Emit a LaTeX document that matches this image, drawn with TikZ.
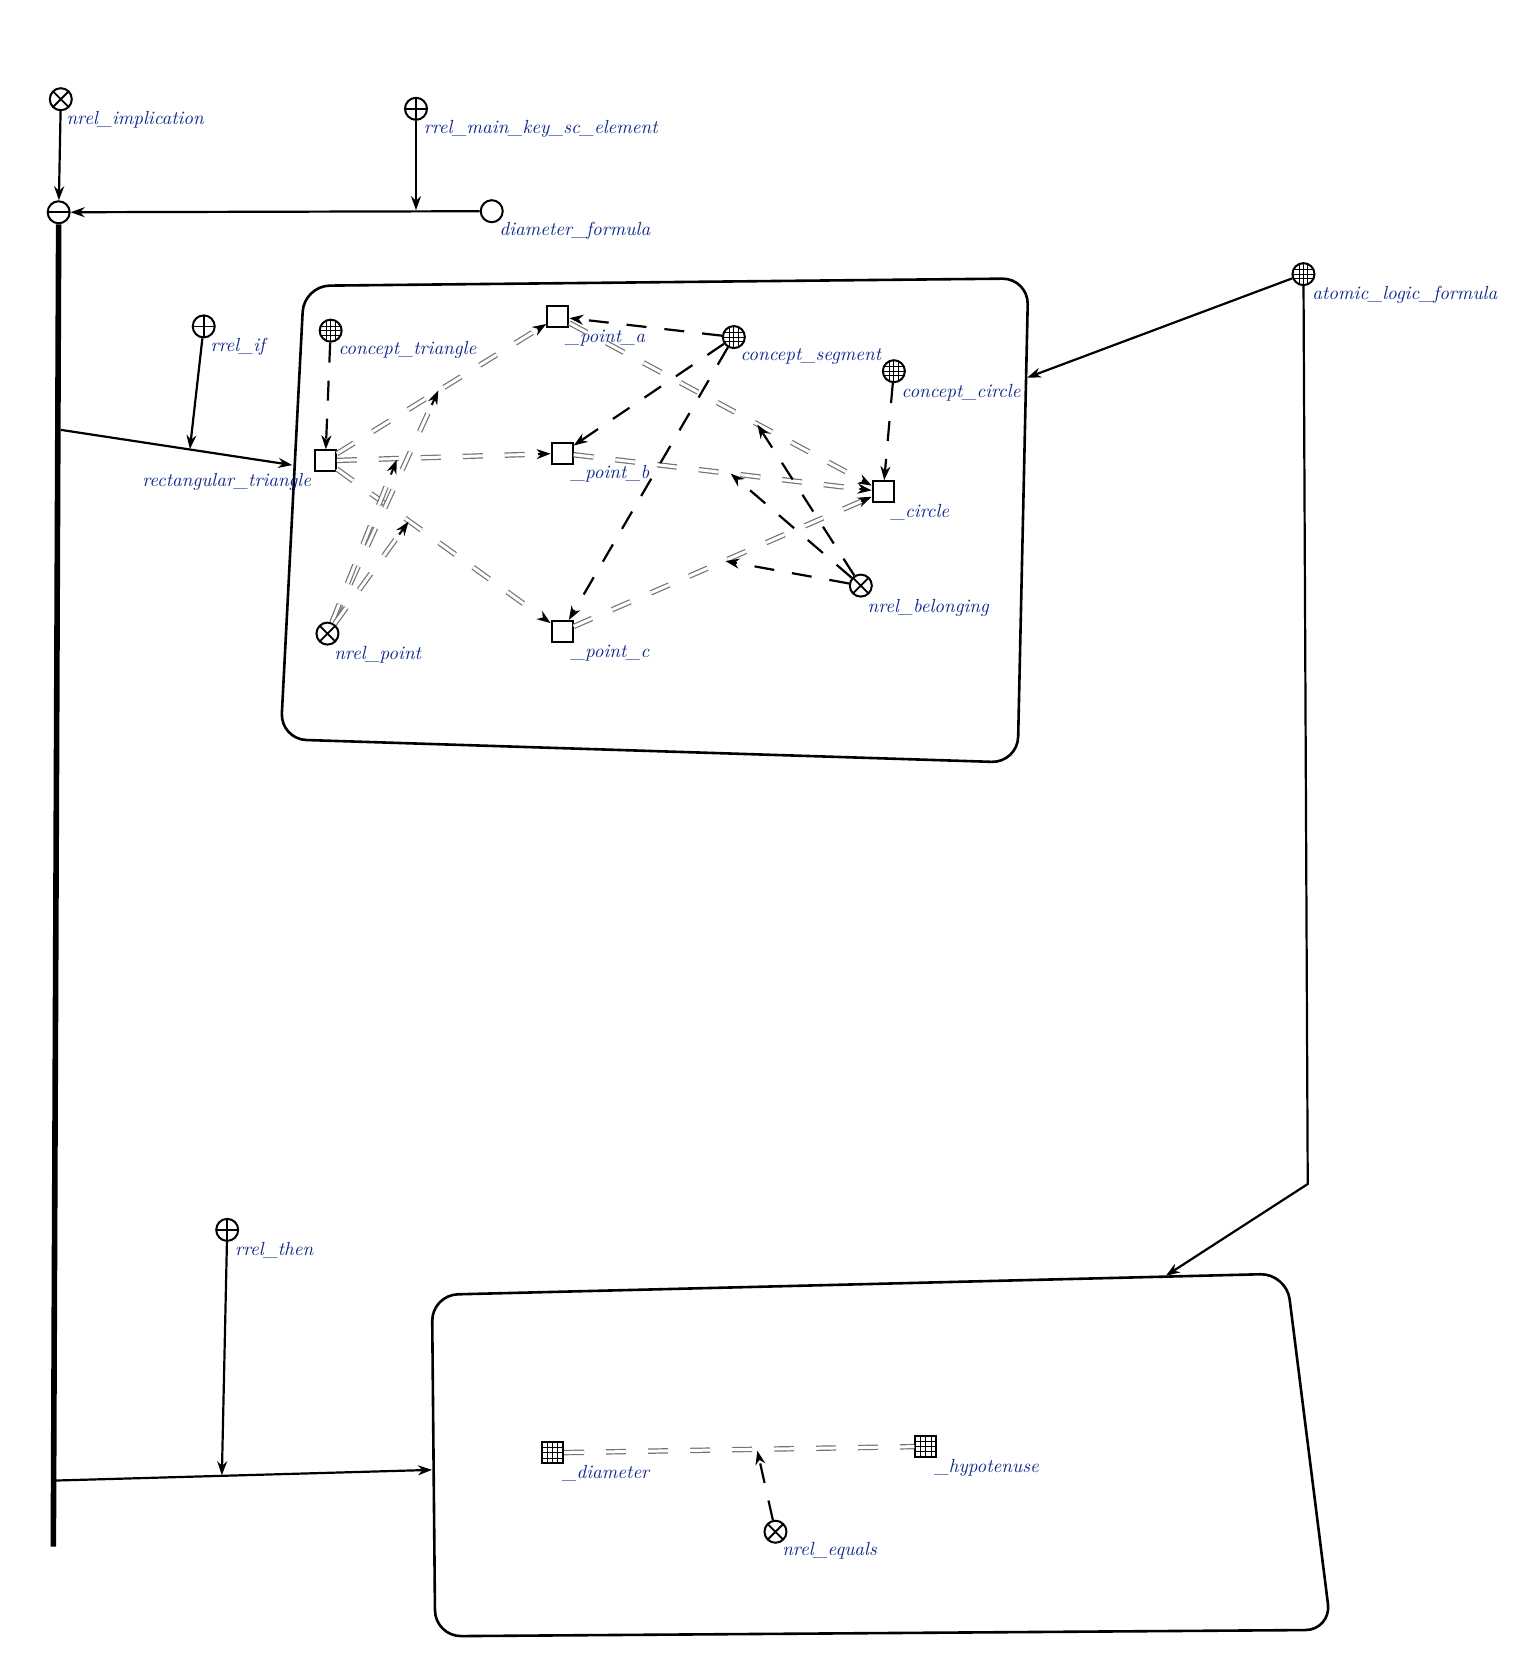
\documentclass[tikz,border=0pt]{standalone}
\usetikzlibrary{arrows.meta,calc}
\definecolor{lblue}{RGB}{15,40,140}
\begin{document}
\begin{tikzpicture}[x=0.5333pt,y=-0.5333pt,
  base/.style={draw=black, line width=1pt, inner sep=0pt, fill=white},
  sq/.style={base, rectangle, minimum size=10.5pt},
  gsq/.style={sq, path picture={
    \foreach \t in {0.25,0.5,0.75}{
      \draw[line width=0.5pt] ($(path picture bounding box.north west)!\t!(path picture bounding box.north east)$) -- ($(path picture bounding box.south west)!\t!(path picture bounding box.south east)$);
      \draw[line width=0.5pt] ($(path picture bounding box.north west)!\t!(path picture bounding box.south west)$) -- ($(path picture bounding box.north east)!\t!(path picture bounding box.south east)$);}}},
  circ/.style={base, circle, minimum size=11pt},
  gcirc/.style={circ, path picture={
    \foreach \t in {0.3,0.5,0.7}{
      \draw[line width=0.4pt] ($(path picture bounding box.north west)!\t!(path picture bounding box.north east)$) -- ($(path picture bounding box.south west)!\t!(path picture bounding box.south east)$);
      \draw[line width=0.4pt] ($(path picture bounding box.north west)!\t!(path picture bounding box.south west)$) -- ($(path picture bounding box.north east)!\t!(path picture bounding box.south east)$);}}},
  xcirc/.style={circ, path picture={
    \draw[line width=0.9pt] (path picture bounding box.north west) -- (path picture bounding box.south east)
      (path picture bounding box.north east) -- (path picture bounding box.south west);}},
  pcirc/.style={circ, path picture={
    \draw[line width=0.9pt] (path picture bounding box.north) -- (path picture bounding box.south)
      (path picture bounding box.west) -- (path picture bounding box.east);}},
  mcirc/.style={circ, path picture={
    \draw[line width=0.9pt] (path picture bounding box.west) -- (path picture bounding box.east);}},
  lbl/.style={text=lblue, font=\itshape\fontsize{9.5}{11}\selectfont, anchor=west, inner sep=0pt},
  arc/.style={draw=black, line width=1.1pt, -{Stealth[length=7pt,width=5pt]}},
  acc/.style={arc, dash pattern=on 10pt off 9pt},
  dbl/.style={draw=black!55, line width=0.6pt, double=white, double distance=1.5pt, dash pattern=on 10pt off 11pt},
  tipst/.style={draw=black, line width=1pt, -{Stealth[length=7pt,width=5pt]}},
  contour/.style={draw=black, line width=1.3pt, rounded corners=13pt},
  thick line/.style={draw=black, line width=2.8pt}
]
\newcommand\comarc[3][12pt]{%
  \coordinate (tmpc) at ($(#3)!#1!(#2)$);
  \draw[dbl, shorten >=5pt] (#2) -- (#3);
  \draw[tipst] (tmpc) -- (#3);}
\useasboundingbox (0,0) rectangle (1440,1575);

% contours
\draw[contour] (285,268) -- (964,261) -- (954,715) -- (263,693) -- cycle;
\draw[contour] (405,1214) -- (1206,1194) -- (1248,1528) -- (408,1534) -- cycle;

% top nodes
\node[xcirc] (nimpl) at (57,93) {};
\node[lbl] (l_nimpl) at (62,112) {nrel\_implication};
\node[pcirc] (rmk) at (390,102) {};
\node[lbl] (l_rmk) at (397,121) {rrel\_main\_key\_sc\_element};
\node[mcirc] (impl) at (55,199) {};
\node[circ] (dform) at (461,198) {};
\node[lbl] (l_dform) at (468,216) {diameter\_formula};
\node[pcirc] (rif) at (191,306) {};
\node[lbl] (l_rif) at (197,325) {rrel\_if};
\node[lbl] (l_rt) at (133,452) {rectangular\_triangle};
\node[gcirc] (alf) at (1222,257) {};
\node[lbl] (l_alf) at (1230,276) {atomic\_logic\_formula};
\node[pcirc] (rthen) at (213,1153) {};
\node[lbl] (l_rthen) at (220,1172) {rrel\_then};

% inside top contour
\node[gcirc] (ctri) at (310,310) {};
\node[lbl] (l_ctri) at (317,328) {concept\_triangle};
\node[sq] (T) at (305,432) {};
\node[sq] (pa) at (523,297) {};
\node[lbl] (l_pa) at (530,317) {\_point\_a};
\node[gcirc] (cseg) at (688,316) {};
\node[lbl] (l_cseg) at (694,334) {concept\_segment};
\node[gcirc] (ccirc) at (838,348) {};
\node[lbl] (l_ccirc) at (845,368) {concept\_circle};
\node[sq] (pb) at (527,425) {};
\node[lbl] (l_pb) at (535,444) {\_point\_b};
\node[sq] (ci) at (828,461) {};
\node[lbl] (l_ci) at (835,480) {\_circle};
\node[xcirc] (nbel) at (807,549) {};
\node[lbl] (l_nbel) at (813,570) {nrel\_belonging};
\node[xcirc] (npt) at (307,594) {};
\node[lbl] (l_npt) at (313,614) {nrel\_point};
\node[sq] (pc) at (527,592) {};
\node[lbl] (l_pc) at (535,612) {\_point\_c};

% inside bottom contour
\node[gsq] (diam) at (518,1362) {};
\node[lbl] (l_diam) at (527,1381) {\_diameter};
\node[gsq] (hyp) at (868,1356) {};
\node[lbl] (l_hyp) at (876,1376) {\_hypotenuse};
\node[xcirc] (neq) at (727,1436) {};
\node[lbl] (l_neq) at (733,1454) {nrel\_equals};

% coordinates
\coordinate (m0) at (390,197);
\coordinate (vend) at (50,1450);
\coordinate (vA) at (57,403);
\coordinate (c1L) at (274,436);
\coordinate (mif) at (178,421);
\coordinate (vB) at (52,1388);
\coordinate (c2L) at (405,1378);
\coordinate (mthen) at (208,1383);
\coordinate (c1R) at (963,354);
\coordinate (bend) at (1226,1110);
\coordinate (c2T) at (1093,1196);
\coordinate (mTa) at (411,366);
\coordinate (mTb) at (372,431);
\coordinate (mTc) at (383,489);
\coordinate (mac) at (710,398);
\coordinate (mbc) at (685,444);
\coordinate (mcc) at (680,526);
\coordinate (meq) at (710,1360);

% outer connectors
\draw[thick line] (impl.south) -- (vend);
\draw[arc] (dform) -- (impl);
\draw[arc] (rmk) -- (m0);
\draw[arc] (nimpl) -- (impl);
\draw[arc] (vA) -- (c1L);
\draw[arc] (rif) -- (mif);
\draw[arc] (vB) -- (c2L);
\draw[arc] (rthen) -- (mthen);
\draw[arc] (alf) -- (c1R);
\draw[arc] (alf) -- (bend) -- (c2T);

% common arcs
\comarc{T}{pa}
\comarc{T}{pb}
\comarc{T}{pc}
\comarc{pa}{ci}
\comarc{pb}{ci}
\comarc{pc}{ci}
\comarc[8pt]{npt}{mTa}
\comarc[8pt]{npt}{mTb}
\comarc[8pt]{npt}{mTc}
\draw[dbl] (diam) -- (hyp);

% access arcs
\draw[acc] (ctri) -- (T);
\draw[acc] (ccirc) -- (ci);
\draw[acc] (cseg) -- (pa);
\draw[acc] (cseg) -- (pb);
\draw[acc] (cseg) -- (pc);
\draw[acc] (nbel) -- (mac);
\draw[acc] (nbel) -- (mbc);
\draw[acc] (nbel) -- (mcc);
\draw[acc] (neq) -- (meq);
\end{tikzpicture}
\end{document}
